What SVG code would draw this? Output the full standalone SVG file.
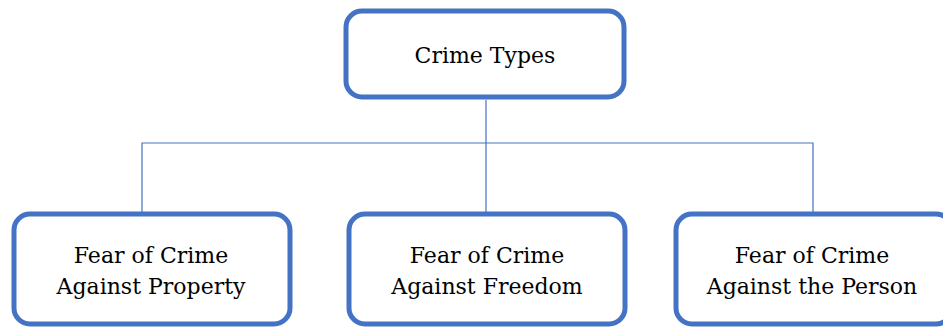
<svg xmlns="http://www.w3.org/2000/svg" width="943" height="328" viewBox="0 0 943 328">
<style>
.box{fill:#fff;stroke:#4472C4;stroke-width:5}
.lbl{font-family:"DejaVu Serif","Liberation Serif",serif;font-size:22px;fill:#000;text-anchor:middle}
.con{fill:none;stroke:#4472C4;stroke-width:1.2}
</style>
<rect width="943" height="328" fill="#fff"/>
<g id="connectors">
<path class="con" d="M486 100V143M142 212V143H813V212M486 143V212"/>
</g>
<g id="crime-types">
<rect class="box" x="346" y="11" width="278" height="86" rx="16"/>
<text class="lbl" x="485" y="63">Crime Types</text>
</g>
<g id="property">
<rect class="box" x="14" y="214" width="276" height="110" rx="16"/>
<text class="lbl" x="151" y="263">Fear of Crime</text>
<text class="lbl" x="151" y="294">Against Property</text>
</g>
<g id="freedom">
<rect class="box" x="349" y="214" width="276" height="110" rx="16"/>
<text class="lbl" x="487" y="263">Fear of Crime</text>
<text class="lbl" x="487" y="294">Against Freedom</text>
</g>
<g id="person">
<rect class="box" x="676" y="214" width="276" height="110" rx="16"/>
<text class="lbl" x="812" y="263">Fear of Crime</text>
<text class="lbl" x="812" y="294">Against the Person</text>
</g>
</svg>
